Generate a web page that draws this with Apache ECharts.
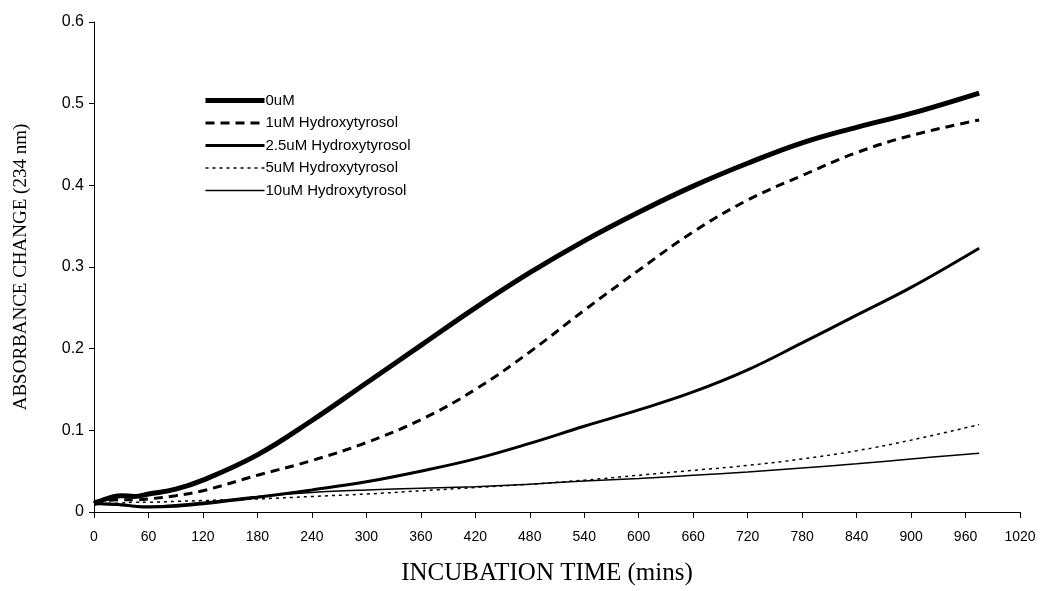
<!DOCTYPE html>
<html><head><meta charset="utf-8">
<script src="https://cdn.jsdelivr.net/npm/echarts@6/dist/echarts.min.js"></script>
<style>html,body{margin:0;padding:0;background:#fff}#c{width:1043px;height:591px}</style>
</head><body><div id="c"></div>
<script>
const times = [0, 30, 45, 60, 90, 120, 180, 240, 300, 360, 420, 480, 540, 600, 660, 720, 780, 840, 900, 975];
const s0uM   = [0.010, 0.020, 0.019, 0.022, 0.028, 0.039, 0.070, 0.112, 0.158, 0.204, 0.250, 0.293, 0.332, 0.367, 0.399, 0.427, 0.452, 0.471, 0.488, 0.513];
const s1uM   = [0.013, 0.015, 0.015, 0.016, 0.020, 0.026, 0.045, 0.063, 0.085, 0.113, 0.150, 0.196, 0.247, 0.296, 0.343, 0.382, 0.412, 0.440, 0.461, 0.480];
const s2_5uM = [0.010, 0.009, 0.007, 0.006, 0.007, 0.010, 0.018, 0.027, 0.037, 0.050, 0.065, 0.084, 0.105, 0.125, 0.147, 0.174, 0.207, 0.241, 0.275, 0.323];
const s5uM   = [0.010, 0.011, 0.012, 0.012, 0.013, 0.014, 0.016, 0.019, 0.022, 0.026, 0.030, 0.034, 0.039, 0.045, 0.051, 0.057, 0.065, 0.075, 0.088, 0.107];
const s10uM  = [0.010, 0.008, 0.007, 0.007, 0.009, 0.012, 0.019, 0.024, 0.027, 0.029, 0.031, 0.034, 0.038, 0.041, 0.045, 0.049, 0.054, 0.059, 0.065, 0.072];
const names = ['0uM', '1uM Hydroxytyrosol', '2.5uM Hydroxytyrosol', '5uM Hydroxytyrosol', '10uM Hydroxytyrosol'];
const xTicks = [0,60,120,180,240,300,360,420,480,540,600,660,720,780,840,900,960,1020];

const pair = arr => times.map((t, i) => [t, arr[i]]);
const styles = [
  {width: 5, type: 'solid'},
  {width: 3, type: [9, 6]},
  {width: 3, type: 'solid'},
  {width: 1.5, type: [3, 4]},
  {width: 1.5, type: 'solid'}
];
const dataSets = [s0uM, s1uM, s2_5uM, s5uM, s10uM];

const chart = echarts.init(document.getElementById('c'));
chart.setOption({
  animation: false,
  backgroundColor: '#fff',
  grid: {left: 94, right: 23, top: 22, bottom: 79, containLabel: false, outerBoundsMode: 'none'},
  legend: {
    orient: 'vertical', left: 198, top: 88,
    itemWidth: 59, itemHeight: 14, itemGap: 7.5,
    itemStyle: {opacity: 0, borderWidth: 0},
    lineStyle: {width: 'inherit', type: 'inherit', color: 'inherit', cap: 'butt'},
    textStyle: {fontFamily: 'Liberation Sans, Arial, sans-serif', fontSize: 15, color: '#000', padding: [0, 0, 0, -4]},
    data: names
  },
  xAxis: {
    type: 'value', min: 0, max: 1020, interval: 60,
    name: 'INCUBATION TIME (mins)', nameLocation: 'middle', nameGap: 49,
    nameTextStyle: {fontFamily: 'Liberation Serif, Times New Roman, serif', fontSize: 25, color: '#000', padding: [0, 20, 0, 0]},
    axisLine: {lineStyle: {color: '#000', width: 1}},
    axisTick: {show: true, inside: false, length: 6, lineStyle: {color: '#000'}},
    axisLabel: {fontFamily: 'Liberation Sans, Arial, sans-serif', fontSize: 14, color: '#000', margin: 18,
      formatter: v => xTicks.includes(v) ? String(v) : ''},
    splitLine: {show: false}
  },
  yAxis: {
    type: 'value', min: 0, max: 0.6, interval: 0.1,
    name: 'ABSORBANCE CHANGE (234 nm)', nameLocation: 'middle', nameGap: 63,
    nameTextStyle: {fontFamily: 'Liberation Serif, Times New Roman, serif', fontSize: 19, color: '#000'},
    axisLine: {show: true, lineStyle: {color: '#000', width: 1}},
    axisTick: {show: true, length: 5, lineStyle: {color: '#000'}},
    axisLabel: {fontFamily: 'Liberation Sans, Arial, sans-serif', fontSize: 16, color: '#000', margin: 10,
      formatter: v => v === 0 ? '0' : v.toFixed(1)},
    splitLine: {show: false}
  },
  series: dataSets.map((d, i) => ({
    name: names[i], type: 'line', data: pair(d), smooth: 0.4, showSymbol: false, symbol: 'none',
    itemStyle: {color: '#000'},
    lineStyle: {color: '#000', width: styles[i].width, type: styles[i].type, cap: 'butt'}
  }))
});
</script></body></html>
